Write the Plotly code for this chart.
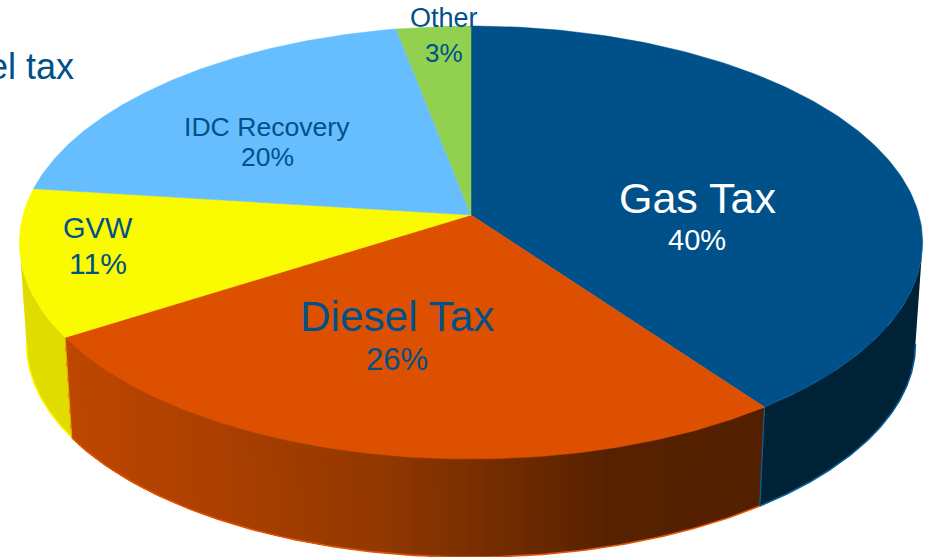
import numpy as np
import plotly.graph_objects as go

# Revenue shares, clockwise from twelve o'clock
categories = ["Gas Tax", "Diesel Tax", "GVW", "IDC Recovery", "Other"]
shares = [40, 26, 11, 20, 3]

top_colors = ["#00518A", "#DD5000", "#FAFA00", "#66BEFF", "#92D050"]

W, H = 928, 557
INK = "#00518A"

# Perspective model of the tilted disc
CX, CY = 471.0, 215.0
RX, RY = 448.0, 213.0
PERSP = 0.127
BOTTOM_CY, BOTTOM_SCALE = 317.0, 0.984

# Rim angles where the wall meets the silhouette of the disc
WALL_START = np.arccos(-PERSP)
WALL_END = 2 * np.pi - WALL_START


def top_rim(theta):
    u, v = np.sin(theta), np.cos(theta)
    w = 1 + PERSP * v
    return CX + RX * u / w, CY - RY * v / w


def bottom_rim(theta):
    u, v = np.sin(theta), np.cos(theta)
    w = 1 + PERSP * v
    return CX + BOTTOM_SCALE * RX * u / w, BOTTOM_CY - BOTTOM_SCALE * RY * v / w


def lerp_color(stops, t):
    ts = [s[0] for s in stops]
    chan = [np.interp(t, ts, [s[1][i] for s in stops]) for i in range(3)]
    return "rgb({:.0f},{:.0f},{:.0f})".format(*chan)


def strip(fig, t0, t1, color):
    th = np.linspace(t0, t1, 12)
    xt, yt = top_rim(th)
    xb, yb = bottom_rim(th[::-1])
    fig.add_trace(go.Scatter(
        x=np.concatenate([xt, xb]), y=np.concatenate([yt, yb]),
        mode="lines", fill="toself", fillcolor=color,
        line=dict(width=0), hoverinfo="skip", showlegend=False,
    ))


fig = go.Figure()

edges = np.radians(np.concatenate([[0], np.cumsum(shares)]) * 3.6)

# Side wall: dark navy for gas, shaded strips for diesel, olive for GVW
strip(fig, WALL_START, edges[1], "#002236")
strip(fig, edges[2], WALL_END, "#E0DC00")

# Each diesel strip runs on to the far end of the wall so later strips
# paint over the seam and no hairlines show between neighbours
diesel_stops = [(0.0, (82, 32, 0)), (0.22, (86, 33, 0)), (0.55, (146, 56, 0)),
                (0.8, (172, 64, 0)), (1.0, (190, 71, 0))]
n_strips = 90
diesel_cuts = np.linspace(edges[1], edges[2], n_strips + 1)
for i in range(n_strips):
    x_mid = top_rim((diesel_cuts[i] + diesel_cuts[i + 1]) / 2)[0]
    t = 1 - (x_mid - 65) / (765 - 65)
    strip(fig, diesel_cuts[i], diesel_cuts[-1], lerp_color(diesel_stops, t))

# Thin bright outline along the lower rim and the slice joints
rim_ranges = [(WALL_START, edges[1], "#0A5E96"), (edges[1], edges[2], "#E25400"),
              (edges[2], WALL_END, "#FAFA00")]
for t0, t1, col in rim_ranges:
    bx, by = bottom_rim(np.linspace(t0, t1, 120))
    fig.add_trace(go.Scatter(x=bx, y=by, mode="lines", line=dict(color=col, width=1.6),
                             hoverinfo="skip", showlegend=False))
for th, col in [(edges[1], "#0A5E96"), (edges[2], "#E8B000")]:
    xt, yt = top_rim(th)
    xb, yb = bottom_rim(th)
    fig.add_trace(go.Scatter(x=[xt, xb], y=[yt, yb], mode="lines", line=dict(color=col, width=1.2),
                             hoverinfo="skip", showlegend=False))

# Top face slices
for name, color, t0, t1 in zip(categories, top_colors, edges[:-1], edges[1:]):
    th = np.linspace(t0, t1, 160)
    xr, yr = top_rim(th)
    fig.add_trace(go.Scatter(
        x=np.concatenate([[CX], xr, [CX]]), y=np.concatenate([[CY], yr, [CY]]),
        mode="lines", fill="toself", fillcolor=color, line=dict(color=color, width=0.5),
        name=name, hoverinfo="skip", showlegend=False,
    ))

# Slice labels: name and share placed as text over each slice
label_layout = {
    "Gas Tax": (697, 198, 43, 240, 29, "#FFFFFF"),
    "Diesel Tax": (397, 316, 42.3, 359, 31, INK),
    "GVW": (98, 228, 29, 263, 30, INK),
    "IDC Recovery": (267, 127, 26.6, 157, 26.5, INK),
    "Other": (444, 18, 27, 53, 26, INK),
}
annotations = []
for name, share in zip(categories, shares):
    xc, y1, s1, y2, s2, col = label_layout[name]
    annotations.append(dict(x=xc, y=y1, text=name, showarrow=False, xanchor="center", yanchor="middle",
                            font=dict(family="Liberation Sans", size=s1, color=col)))
    annotations.append(dict(x=xc, y=y2, text=f"{share}%", showarrow=False, xanchor="center", yanchor="middle",
                            font=dict(family="Liberation Sans", size=s2, color=col)))

# Tail of the slide heading that runs off the left edge
annotations.append(dict(x=76, y=66, text="Diesel tax", showarrow=False, xanchor="right", yanchor="middle",
                        font=dict(family="Liberation Sans", size=36, color=INK)))

fig.update_layout(
    width=W, height=H, margin=dict(l=0, r=0, t=0, b=0),
    paper_bgcolor="white", plot_bgcolor="white", showlegend=False,
    xaxis=dict(range=[0, W], visible=False, fixedrange=True),
    yaxis=dict(range=[H, 0], visible=False, fixedrange=True),
    annotations=annotations,
)

fig.write_html("out.html", config=dict(displayModeBar=False))
